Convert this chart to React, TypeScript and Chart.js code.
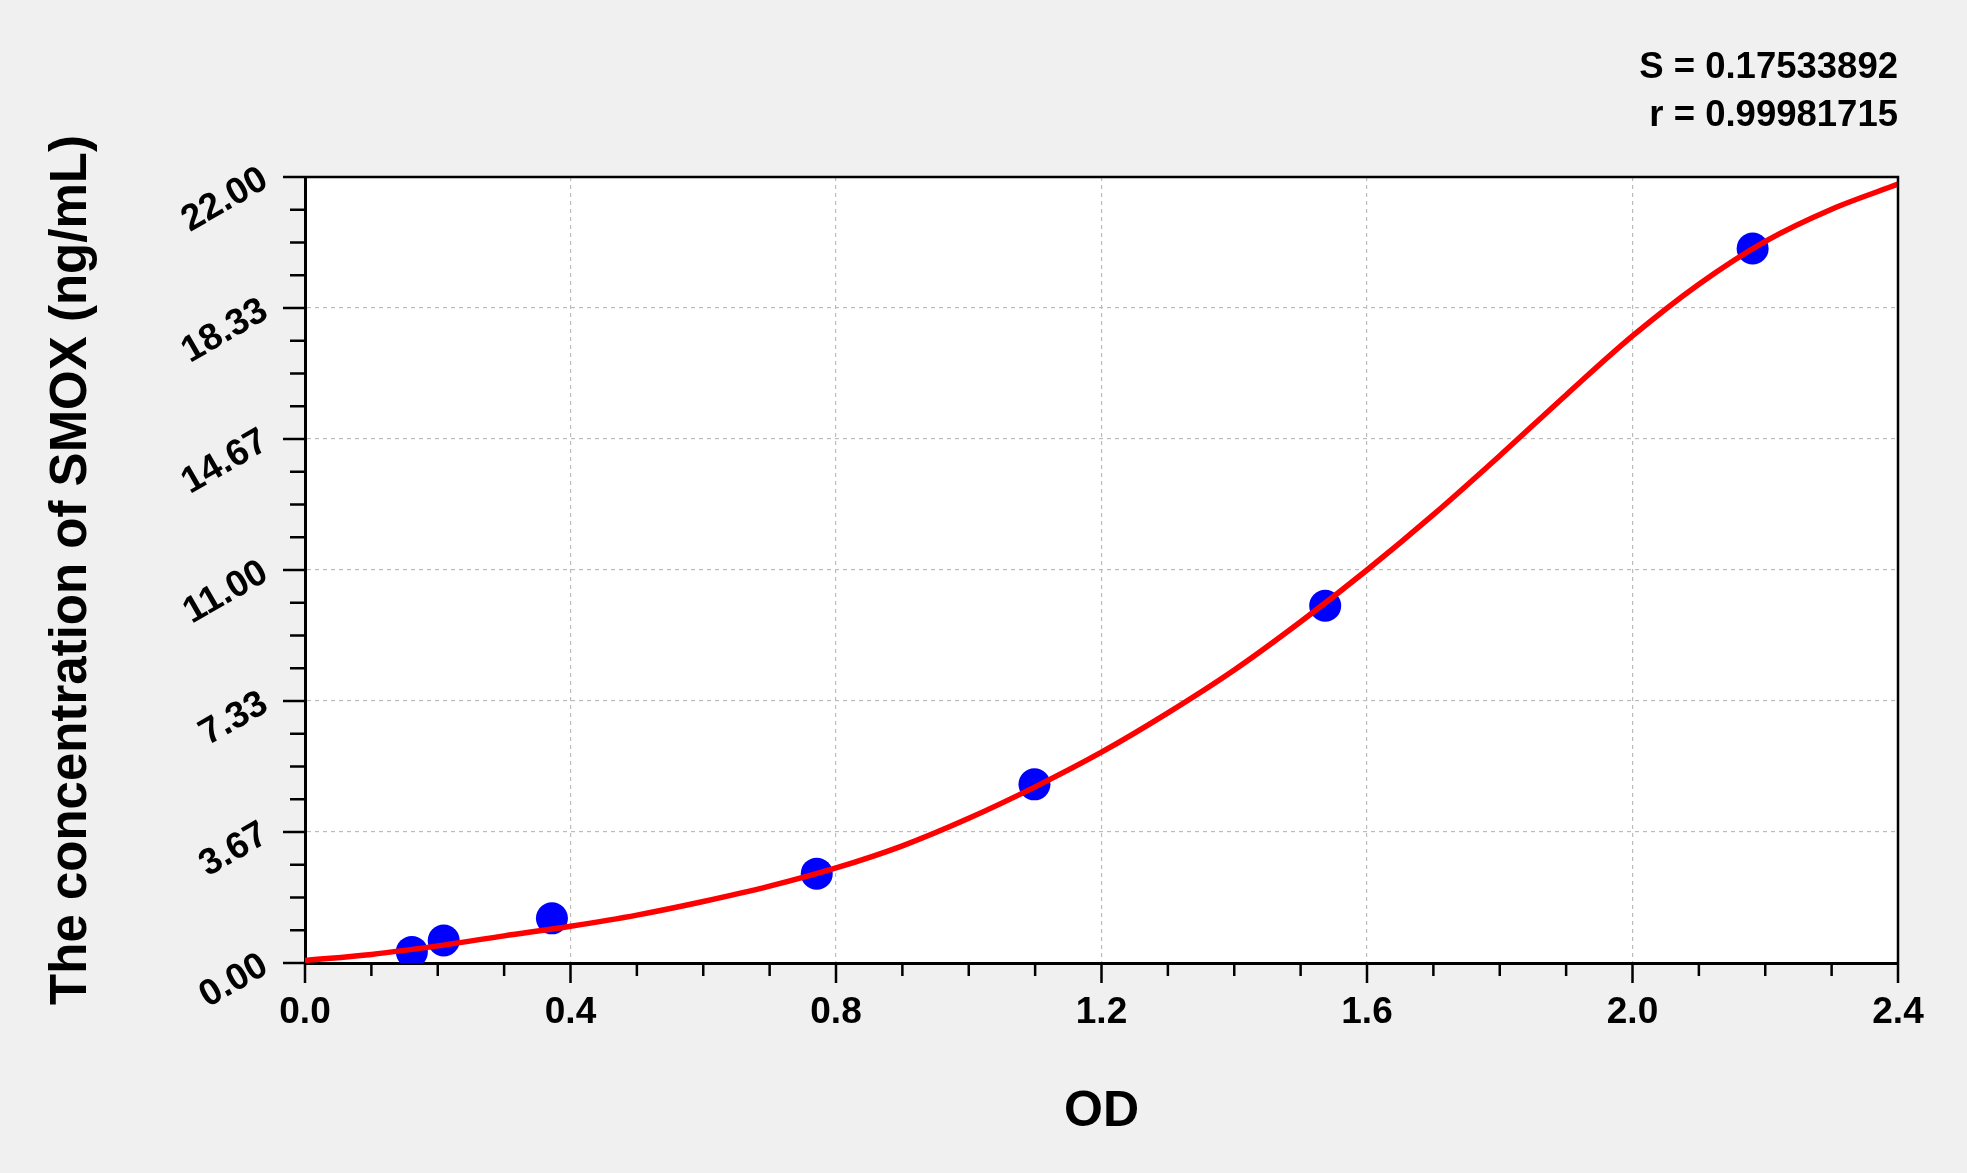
import React, { useEffect, useRef } from "react";
import { Chart, registerables } from "chart.js";

Chart.register(...registerables);

// ---- Data ----
const standardOD = [0.161, 0.209, 0.372, 0.771, 1.099, 1.537, 2.181];
const standardConc = [0.31, 0.63, 1.25, 2.5, 5.0, 10.0, 20.0];

const curveOD = [0.0, 0.1, 0.2, 0.3, 0.4, 0.5, 0.6, 0.7, 0.8, 0.9, 1.0, 1.1, 1.2, 1.3, 1.4, 1.5, 1.6, 1.7, 1.8, 1.9, 2.0, 2.1, 2.2, 2.3, 2.4];
const curveConc = [0.07, 0.24, 0.48, 0.76, 1.03, 1.34, 1.72, 2.15, 2.66, 3.28, 4.05, 4.93, 5.9, 7.0, 8.2, 9.55, 11.0, 12.55, 14.2, 15.9, 17.55, 19.0, 20.2, 21.1, 21.8];

const xTickValues = [0.0, 0.4, 0.8, 1.2, 1.6, 2.0, 2.4];
const xTickLabels = ["0.0", "0.4", "0.8", "1.2", "1.6", "2.0", "2.4"];
const yTickValues = [0, 3.6667, 7.3333, 11.0, 14.6667, 18.3333, 22.0];
const yTickLabels = ["0.00", "3.67", "7.33", "11.00", "14.67", "18.33", "22.00"];

const xTitle = "OD";
const yTitle = "The concentration of SMOX (ng/mL)";
const statLines = ["S = 0.17533892", "r = 0.99981715"];

const W = 1967;
const H = 1173;
const FONT = "'Liberation Sans', Arial, sans-serif";

const decorPlugin = {
  id: "decor",
  beforeDraw(chart: any) {
    const { ctx, chartArea } = chart;
    ctx.save();
    ctx.fillStyle = "#f0f0f0";
    ctx.fillRect(0, 0, chart.width, chart.height);
    ctx.fillStyle = "#ffffff";
    ctx.fillRect(chartArea.left, chartArea.top, chartArea.right - chartArea.left, chartArea.bottom - chartArea.top);
    ctx.restore();
  },
  afterDraw(chart: any) {
    const { ctx, chartArea, scales } = chart;
    const xs = scales.x;
    const ys = scales.y;
    ctx.save();
    // top & right frame
    ctx.strokeStyle = "#000";
    ctx.lineWidth = 2.5;
    ctx.beginPath();
    ctx.moveTo(chartArea.left, chartArea.top);
    ctx.lineTo(chartArea.right, chartArea.top);
    ctx.lineTo(chartArea.right, chartArea.bottom);
    ctx.stroke();
    // tick marks
    ctx.lineWidth = 2.5;
    ctx.beginPath();
    for (let i = 0; i < xTickValues.length; i++) {
      const v = xTickValues[i];
      const px = xs.getPixelForValue(v);
      ctx.moveTo(px, chartArea.bottom);
      ctx.lineTo(px, chartArea.bottom + 20);
      if (i < xTickValues.length - 1) {
        const nv = xTickValues[i + 1];
        for (let k = 1; k < 4; k++) {
          const mx = xs.getPixelForValue(v + ((nv - v) * k) / 4);
          ctx.moveTo(mx, chartArea.bottom);
          ctx.lineTo(mx, chartArea.bottom + 13);
        }
      }
    }
    for (let i = 0; i < yTickValues.length; i++) {
      const v = yTickValues[i];
      const py = ys.getPixelForValue(v);
      ctx.moveTo(chartArea.left, py);
      ctx.lineTo(chartArea.left - 22, py);
      if (i < yTickValues.length - 1) {
        const nv = yTickValues[i + 1];
        for (let k = 1; k < 4; k++) {
          const my = ys.getPixelForValue(v + ((nv - v) * k) / 4);
          ctx.moveTo(chartArea.left, my);
          ctx.lineTo(chartArea.left - 15, my);
        }
      }
    }
    ctx.stroke();
    // statistics text
    ctx.fillStyle = "#000";
    ctx.font = `bold 36.5px ${FONT}`;
    ctx.textAlign = "right";
    ctx.textBaseline = "alphabetic";
    ctx.fillText(statLines[0], chartArea.right, 78);
    ctx.fillText(statLines[1], chartArea.right, 126);
    ctx.restore();
  },
};

export default function App() {
  const canvasRef = useRef<HTMLCanvasElement | null>(null);

  useEffect(() => {
    document.body.style.margin = "0";
    document.body.style.overflow = "hidden";
    document.body.style.background = "#f0f0f0";
    const canvas = canvasRef.current;
    if (!canvas) return;
    const chart = new Chart(canvas, {
      type: "scatter",
      data: {
        datasets: [
          {
            label: "fit",
            data: curveOD.map((x, i) => ({ x, y: curveConc[i] })),
            showLine: true,
            borderColor: "#ff0000",
            backgroundColor: "#ff0000",
            borderWidth: 5.5,
            pointRadius: 0,
            cubicInterpolationMode: "monotone",
            order: 0,
          },
          {
            label: "standards",
            data: standardOD.map((x, i) => ({ x, y: standardConc[i] })),
            showLine: false,
            backgroundColor: "#0000ff",
            borderColor: "#0000ff",
            pointRadius: 16,
            pointBorderWidth: 0,
            order: 1,
          },
        ],
      },
      options: {
        animation: false,
        responsive: false,
        devicePixelRatio: 1,
        layout: { padding: { top: 177, right: 69, left: 0, bottom: 0 } },
        plugins: {
          legend: { display: false },
          tooltip: { enabled: false },
        },
        scales: {
          x: {
            type: "linear",
            min: 0,
            max: 2.4,
            afterBuildTicks: (scale: any) => {
              scale.ticks = xTickValues.map((v) => ({ value: v }));
            },
            afterFit: (scale: any) => {
              scale.height = H - 963;
            },
            ticks: {
              color: "#000",
              font: { family: FONT, size: 37, weight: "bold" },
              padding: 28,
              maxRotation: 0,
              minRotation: 0,
              callback: (_v: any, i: number) => xTickLabels[i],
            },
            grid: {
              color: "#bcbcbc",
              lineWidth: 1.2,
              drawTicks: false,
            },
            border: { display: true, color: "#000", width: 3, dash: [4, 4] },
            title: {
              display: true,
              text: xTitle,
              color: "#000",
              font: { family: FONT, size: 50, weight: "bold" },
              padding: { top: 0, bottom: 31 },
            },
          },
          y: {
            type: "linear",
            min: 0,
            max: 22,
            afterBuildTicks: (scale: any) => {
              scale.ticks = yTickValues.map((v) => ({ value: v }));
            },
            afterFit: (scale: any) => {
              scale.width = 305;
            },
            ticks: {
              color: "#000",
              font: { family: FONT, size: 37, weight: "bold" },
              padding: 40,
              minRotation: 30,
              maxRotation: 30,
              callback: (_v: any, i: number) => yTickLabels[i],
            },
            grid: {
              color: "#bcbcbc",
              lineWidth: 1.2,
              drawTicks: false,
            },
            border: { display: true, color: "#000", width: 3, dash: [4, 4] },
            title: {
              display: true,
              text: yTitle,
              color: "#000",
              font: { family: FONT, size: 51, weight: "bold" },
              padding: { top: 41, bottom: 0 },
            },
          },
        },
      },
      plugins: [decorPlugin],
    } as any);
    return () => chart.destroy();
  }, []);

  return (
    <div style={{ width: W, height: H, background: "#f0f0f0" }}>
      <canvas ref={canvasRef} width={W} height={H} style={{ width: W, height: H, display: "block" }} />
    </div>
  );
}
